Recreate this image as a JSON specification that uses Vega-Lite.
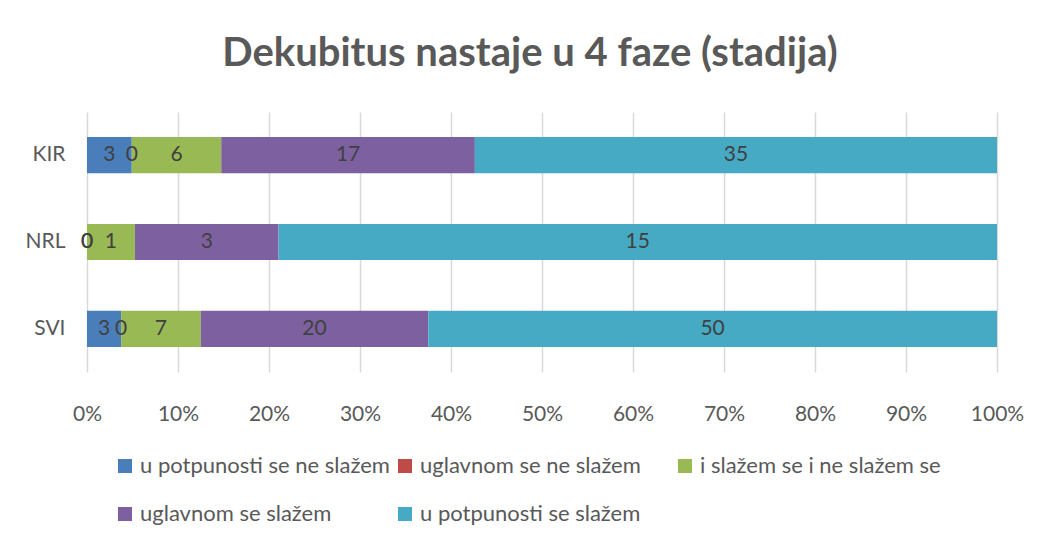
{
  "$schema": "https://vega.github.io/schema/vega-lite/v6.json",
  "width": 910,
  "height": 260,
  "autosize": {"type": "none"},
  "padding": {"left": 87, "top": 112, "right": 41, "bottom": 165},
  "background": "white",
  "config": {
    "font": "Lato",
    "view": {"stroke": null}
  },
  "title": {
    "text": "Dekubitus nastaje u 4 faze (stadija)",
    "font": "Lato",
    "fontSize": 40,
    "fontWeight": "bold",
    "color": "#595959",
    "offset": 38,
    "dx": -12
  },
  "data": {
    "values": [
      {"grupa": "KIR", "odgovor": "u potpunosti se ne slažem", "n": 3},
      {"grupa": "KIR", "odgovor": "uglavnom se ne slažem", "n": 0},
      {"grupa": "KIR", "odgovor": "i slažem se i ne slažem se", "n": 6},
      {"grupa": "KIR", "odgovor": "uglavnom se slažem", "n": 17},
      {"grupa": "KIR", "odgovor": "u potpunosti se slažem", "n": 35},
      {"grupa": "NRL", "odgovor": "u potpunosti se ne slažem", "n": 0},
      {"grupa": "NRL", "odgovor": "uglavnom se ne slažem", "n": 0},
      {"grupa": "NRL", "odgovor": "i slažem se i ne slažem se", "n": 1},
      {"grupa": "NRL", "odgovor": "uglavnom se slažem", "n": 3},
      {"grupa": "NRL", "odgovor": "u potpunosti se slažem", "n": 15},
      {"grupa": "SVI", "odgovor": "u potpunosti se ne slažem", "n": 3},
      {"grupa": "SVI", "odgovor": "uglavnom se ne slažem", "n": 0},
      {"grupa": "SVI", "odgovor": "i slažem se i ne slažem se", "n": 7},
      {"grupa": "SVI", "odgovor": "uglavnom se slažem", "n": 20},
      {"grupa": "SVI", "odgovor": "u potpunosti se slažem", "n": 50}
    ]
  },
  "transform": [
    {"calculate": "indexof(['u potpunosti se ne slažem','uglavnom se ne slažem','i slažem se i ne slažem se','uglavnom se slažem','u potpunosti se slažem'], datum.odgovor)", "as": "ord"},
    {"stack": "n", "groupby": ["grupa"], "sort": [{"field": "ord", "order": "ascending"}], "offset": "normalize", "as": ["x0", "x1"]},
    {"calculate": "(datum.x0 + datum.x1) / 2", "as": "xm"}
  ],
  "encoding": {
    "y": {
      "field": "grupa",
      "type": "nominal",
      "sort": ["KIR", "NRL", "SVI"],
      "scale": {"paddingInner": 0.584, "paddingOuter": 0.289},
      "axis": {
        "title": null,
        "domain": false,
        "ticks": false,
        "labelFontSize": 21,
        "labelColor": "#595959",
        "labelPadding": 22
      }
    }
  },
  "layer": [
    {
      "mark": {"type": "bar"},
      "encoding": {
        "x": {
          "field": "x0",
          "type": "quantitative",
          "scale": {"domain": [0, 1], "nice": false},
          "axis": {
            "title": null,
            "format": ".0%",
            "values": [0, 0.1, 0.2, 0.3, 0.4, 0.5, 0.6, 0.7, 0.8, 0.9, 1],
            "domain": false,
            "ticks": false,
            "grid": true,
            "gridColor": "#D9D9D9",
            "gridWidth": 1.5,
            "labelFlush": false,
            "labelFontSize": 21,
            "labelColor": "#595959",
            "labelPadding": 31
          }
        },
        "x2": {"field": "x1"},
        "color": {
          "field": "odgovor",
          "type": "nominal",
          "scale": {
            "domain": ["u potpunosti se ne slažem", "uglavnom se ne slažem", "i slažem se i ne slažem se", "uglavnom se slažem", "u potpunosti se slažem"],
            "range": ["#4A7EBB", "#BE4B48", "#98B954", "#7D60A0", "#46AAC5"]
          },
          "legend": {
            "orient": "none",
            "legendX": 27,
            "legendY": 343,
            "direction": "horizontal",
            "columns": 3,
            "gridAlign": "all",
            "title": null,
            "symbolType": "square",
            "symbolSize": 196,
            "symbolStrokeWidth": 0,
            "labelFontSize": 22,
            "labelColor": "#595959",
            "labelLimit": 400,
            "rowPadding": 26,
            "columnPadding": 4,
            "labelOffset": 4
          }
        }
      }
    },
    {
      "mark": {"type": "text", "fontSize": 21, "color": "#404040", "align": "center", "baseline": "middle"},
      "encoding": {
        "x": {"field": "xm", "type": "quantitative"},
        "text": {"field": "n", "type": "quantitative"}
      }
    }
  ]
}
